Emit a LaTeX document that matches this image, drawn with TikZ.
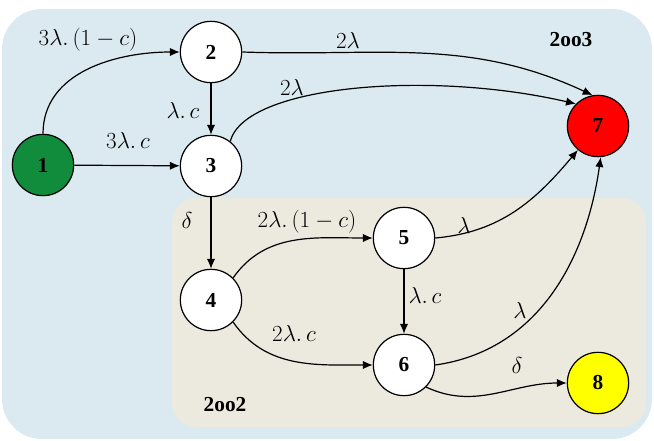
\documentclass[tikz,border=0pt]{standalone}
\usepackage{fontspec}
\setmainfont{Liberation Serif}
\usetikzlibrary{arrows.meta,positioning}
\definecolor{outerbg}{RGB}{219,234,241}
\definecolor{innerbg}{RGB}{236,233,223}
\definecolor{startcolor}{RGB}{16,140,60}
\definecolor{failcolor}{RGB}{255,0,0}
\definecolor{safecolor}{RGB}{255,255,0}
\tikzset{
statenode/.style={
  draw,
  circle,
  line width=0.9pt,
  minimum size=46pt,
  inner sep=0pt,
  fill=white,
  font=\fontsize{16}{18}\selectfont\bfseries
},
rate/.style={
  font=\fontsize{16}{18}\selectfont,
  inner sep=0pt
},
grouplabel/.style={
  font=\fontsize{16}{18}\selectfont\bfseries,
  inner sep=0pt
},
arrow/.style={
  -{Latex[length=2.6mm,width=2.2mm]},
  line width=0.9pt
}
}

\begin{document}
\begin{tikzpicture}[x=0.75pt, y=0.75pt]
      \useasboundingbox (0,0) rectangle (654,-441);

      % Groups
      \fill[outerbg, rounded corners=30pt] (2,-9) rectangle (652,-439);
      \fill[innerbg, rounded corners=18pt] (172,-198) rectangle (646,-427);
      \node[grouplabel] (g2oo3) at (571,-40) {2oo3};
      \node[grouplabel] (g2oo2) at (225,-405) {2oo2};

      % States
      \node[statenode, fill=startcolor] (n1) at (43,-165) {1};
      \node[statenode] (n2) at (211,-52) {2};
      \node[statenode] (n3) at (211,-166) {3};
      \node[statenode] (n4) at (211,-300) {4};
      \node[statenode] (n5) at (404,-238) {5};
      \node[statenode] (n6) at (404,-365) {6};
      \node[statenode, fill=failcolor] (n7) at (598,-126) {7};
      \node[statenode, fill=safecolor] (n8) at (598,-383) {8};

      % Transitions
      \draw[arrow] (n1.north) to[out=90, in=180] (n2.west);
      \draw[arrow] (n1) -- (n3);
      \draw[arrow] (n2) -- (n3);
      \draw[arrow] (n2.east) to[out=-2, in=155] (n7.100);
      \draw[arrow] (n3.52) .. controls (245,-85) and (430,-70) .. (n7.135);
      \draw[arrow] (n3) -- (n4);
      \draw[arrow] (n4.45) to[out=55, in=180] (n5.west);
      \draw[arrow] (n4.-45) to[out=-55, in=180] (n6.west);
      \draw[arrow] (n5) -- (n6);
      \draw[arrow] (n5.east) to[out=5, in=230] (n7.230);
      \draw[arrow] (n6.east) to[out=8, in=262] (n7.-85);
      \draw[arrow] (n6.-45) to[out=-25, in=180] (n8.west);

      % Rates
      \node[rate] (r12) at (88,-40) {$3\lambda.\,(1-c)$};
      \node[rate] (r27) at (348,-41) {$2\lambda$};
      \node[rate] (r23) at (183,-111) {$\lambda.\,c$};
      \node[rate] (r13) at (128,-141) {$3\lambda.\,c$};
      \node[rate] (r37) at (292,-88) {$2\lambda$};
      \node[rate] (r34) at (187,-221) {$\delta$};
      \node[rate] (r45) at (307,-222) {$2\lambda.\,(1-c)$};
      \node[rate] (r56) at (425,-296) {$\lambda.\,c$};
      \node[rate] (r46) at (294,-334) {$2\lambda.\,c$};
      \node[rate] (r57) at (464,-226) {$\lambda$};
      \node[rate] (r67) at (520,-311) {$\lambda$};
      \node[rate] (r68) at (517,-366) {$\delta$};
    \end{tikzpicture}
\end{document}
